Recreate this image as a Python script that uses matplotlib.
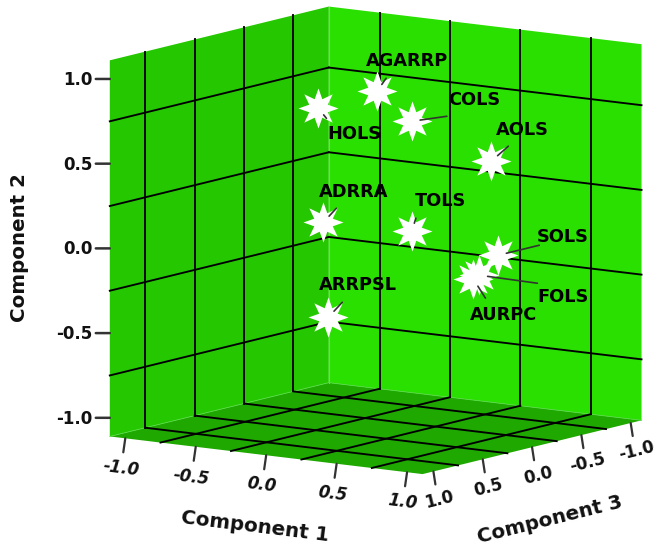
import matplotlib
matplotlib.use('Agg')
import matplotlib.pyplot as plt
from matplotlib.path import Path
from mpl_toolkits.mplot3d import proj3d
from mpl_toolkits.mplot3d.art3d import Poly3DCollection

# data
nomes = ['HOLS', 'AGARRP', 'COLS', 'AOLS', 'ADRRA', 'TOLS', 'SOLS', 'FOLS', 'AURPC', 'ARRPSL']
comp1 = [-0.196, 0.080, 0.397, 0.751, -0.021, 0.537, 0.870, 0.806, 0.834, 0.084]
comp2 = [0.802, 0.902, 0.771, 0.528, 0.176, 0.165, -0.001, -0.111, -0.117, -0.360]
comp3 = [0.30, 0.10, 0.20, -0.10, 0.50, 0.40, 0.00, 0.10, 0.20, 0.60]

ticks = [-1.0, -0.5, 0.0, 0.5, 1.0]
grade = [-0.75, -0.25, 0.25, 0.75]
L = 1.11

# deslocamento dos rotulos e das linhas guia, em pixels
rot_dx = [36, 30, 62, 31, 30, 29, 64, 84, 30, 30]
rot_dy = [-26, 30, 21, 31, 30, 30, 18, -22, -36, 32]
lin_dx = [8, 9, 35, 17, 13, 4, 41, 58, 12, 14]
lin_dy = [-10, 13, 5, 15, 14, 13, 10, -8, -19, 15]

plt.rcParams['font.family'] = 'DejaVu Sans'

W, H = 655, 548
fig = plt.figure(figsize=(W / 100, H / 100), dpi=100)
ax = fig.add_axes([46 / W, -22 / H, 642 / W, 642 / H], projection='3d',
                  proj_type='ortho', computed_zorder=False)
ax.view_init(elev=9.9, azim=-55)
ax.set_box_aspect((1, 1, 1))
ax.set_xlim(-L, L, view_margin=0)
ax.set_ylim(L, -L, view_margin=0)
ax.set_zlim(-L, L, view_margin=0)
ax.set_axis_off()

# paredes e chao  (x = comp 1, y = comp 3, z = comp 2)
esq = [(-L, L, -L), (-L, -L, -L), (-L, -L, L), (-L, L, L)]
dir_ = [(-L, -L, -L), (L, -L, -L), (L, -L, L), (-L, -L, L)]
chao = [(-L, L, -L), (L, L, -L), (L, -L, -L), (-L, -L, -L)]
ax.add_collection3d(Poly3DCollection([esq], facecolor='#25C800', edgecolor='none', zorder=1))
ax.add_collection3d(Poly3DCollection([dir_], facecolor='#2AE000', edgecolor='none', zorder=1))
ax.add_collection3d(Poly3DCollection([chao], facecolor='#1FA800', edgecolor='none', zorder=1))

# aresta clara do fundo
ax.plot([-L, -L], [-L, -L], [-L, L], color='#55EE44', lw=0.8, zorder=2)
ax.plot([-L, -L], [L, -L], [-L, -L], color='#55DD44', lw=0.6, zorder=2)
ax.plot([-L, L], [-L, -L], [-L, -L], color='#55DD44', lw=0.6, zorder=2)

# grade
for g in grade:
    ax.plot([-L, -L], [g, g], [-L, L], color='black', lw=1.35, zorder=3)
    ax.plot([g, g], [-L, -L], [-L, L], color='black', lw=1.35, zorder=3)
    ax.plot([-L, -L], [L, -L], [g, g], color='black', lw=1.35, zorder=3)
    ax.plot([-L, L], [-L, -L], [g, g], color='black', lw=1.35, zorder=3)
    ax.plot([g, g], [L, -L], [-L, -L], color='black', lw=1.35, zorder=3)
    ax.plot([-L, L], [g, g], [-L, -L], color='black', lw=1.35, zorder=3)

# pontos
estrela = Path.unit_regular_star(8, innerCircle=0.5)
ax.scatter(comp1, comp3, comp2, marker=estrela, s=830, color='white',
           linewidths=0, depthshade=False, zorder=5)

M = ax.get_proj()


def tela(x, y, z):
    xp, yp, _ = proj3d.proj_transform(x, y, z, M)
    return float(xp), float(yp)


def traco(x, y, z, dx, dy, **kw):
    ax.annotate('', xy=tela(x, y, z), xytext=(dx, dy), textcoords='offset pixels',
                arrowprops=dict(arrowstyle='-', shrinkA=0, color='#333333', **kw), zorder=6)


for i, nome in enumerate(nomes):
    p = tela(comp1[i], comp3[i], comp2[i])
    traco(comp1[i], comp3[i], comp2[i], lin_dx[i], lin_dy[i], lw=1.2, shrinkB=6)
    ax.annotate(nome, xy=p, xytext=(rot_dx[i], rot_dy[i]), textcoords='offset pixels',
                ha='center', va='center', fontsize=12.8, fontweight='bold',
                color='black', zorder=7)

# eixos
for t in ticks:
    txt = f'{t:.1f}'
    # componente 2
    traco(-L, L, t, -14, 0, lw=1.8, shrinkB=0)
    ax.annotate(txt, xy=tela(-L, L, t), xytext=(-17, -1), textcoords='offset pixels',
                ha='right', va='center', fontsize=12, fontweight='bold', color='#111111')
    # componente 1
    traco(t, L, -L, -2, -14, lw=1.6, shrinkB=0)
    ax.annotate(txt, xy=tela(t, L, -L), xytext=(-4, -30), textcoords='offset pixels',
                ha='center', va='center', fontsize=12, fontweight='bold', style='oblique',
                rotation=-7, color='#111111')
    # componente 3
    traco(L, t, -L, 2, -13, lw=1.6, shrinkB=0)
    ax.annotate(txt, xy=tela(L, t, -L), xytext=(6, -28), textcoords='offset pixels',
                ha='center', va='center', fontsize=12, fontweight='bold',
                rotation=14, color='#111111')

fig.text(20 / W, 1 - 248 / H, 'Component 2', rotation=90, ha='center', va='center',
         fontsize=14.3, fontweight='bold', color='#111111')
fig.text(255 / W, 1 - 527 / H, 'Component 1', rotation=-7, ha='center', va='center',
         fontsize=14.3, fontweight='bold', color='#111111')
fig.text(550 / W, 1 - 520 / H, 'Component 3', rotation=14, ha='center', va='center',
         fontsize=14.3, fontweight='bold', color='#111111')

fig.savefig('out.png', dpi=100)
